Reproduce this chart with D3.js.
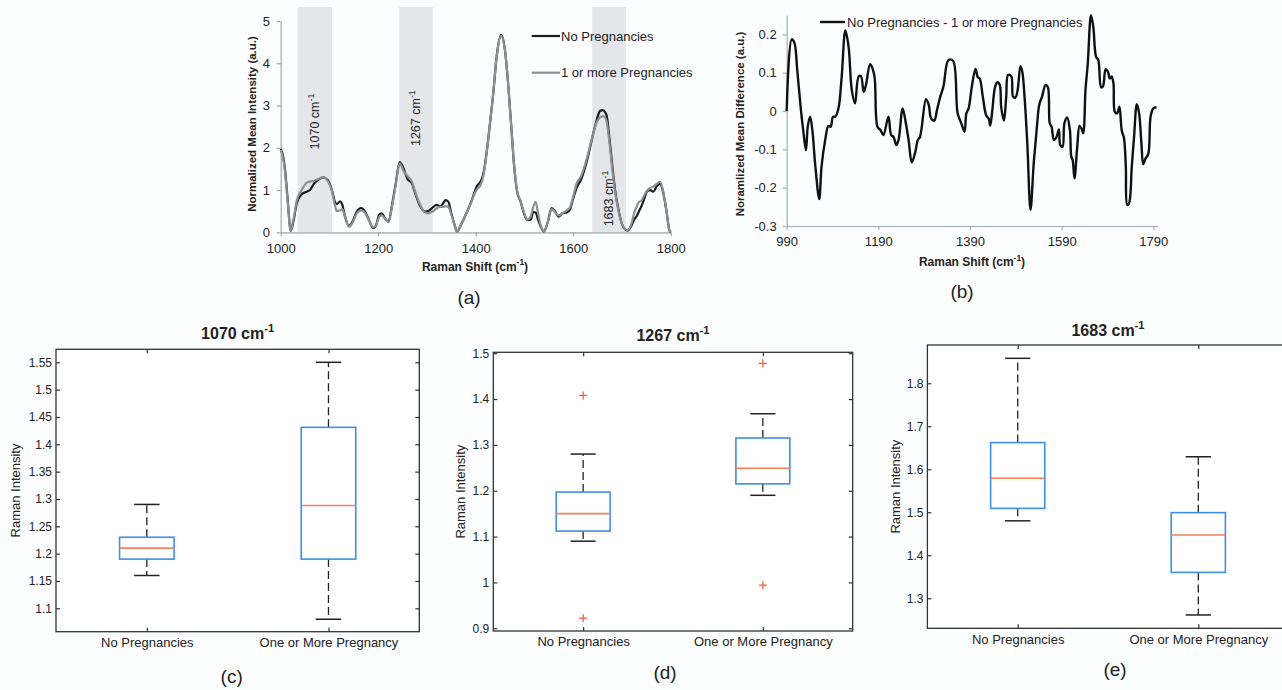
<!DOCTYPE html>
<html><head><meta charset="utf-8">
<script src="https://cdn.jsdelivr.net/npm/d3@7"></script>
<style>
body{margin:0;background:#fcfdfe;}
svg text{font-family:Arial,"Liberation Sans",Helvetica,sans-serif;fill:#222;}
</style>
</head><body>
<svg id="c" width="1282" height="690"></svg>
<script>
// ---------- Panel (a): mean spectra ----------
const specX = [
1000,1005,1009,1013,1016,1020,1026,1033,1043,1053,
1060,1069,1077,1087,1096,1105,1111,1115,1122,1126,
1132,1140,1147,1156,1165,1173,1181,1190,1195,1202,
1207,1214,1221,1229,1236,1244,1252,1260,1269,1276,
1286,1296,1304,1313,1320,1327,1334,1338,1344,1350,
1356,1362,1371,1381,1392,1399,1403,1410,1416,1423,
1429,1436,1443,1452,1460,1467,1473,1479,1485,1492,
1499,1506,1513,1518,1523,1528,1533,1540,1547,1556,
1563,1570,1578,1587,1593,1600,1607,1617,1628,1638,
1648,1655,1660,1665,1669,1674,1679,1686,1693,1701,
1711,1720,1725,1730,1735,1740,1746,1751,1758,1764,
1772,1778,1785,1792,1797,1800];
const specNoPreg = [
1.97,1.80,1.47,0.95,0.53,0.03,0.25,0.69,0.90,0.96,
1.00,1.16,1.24,1.30,1.24,1.00,0.73,0.67,0.73,0.66,
0.37,0.15,0.25,0.49,0.57,0.49,0.29,0.10,0.15,0.41,
0.45,0.33,0.25,0.69,1.16,1.66,1.51,1.26,1.16,0.92,
0.62,0.49,0.51,0.60,0.65,0.61,0.70,0.76,0.72,0.45,
0.20,0.02,0.21,0.45,0.76,1.00,1.10,1.20,1.40,1.95,
2.55,3.29,4.16,4.67,4.31,3.45,2.50,1.55,0.96,0.73,
0.45,0.29,0.30,0.48,0.47,0.30,0.15,0.02,0.21,0.57,
0.49,0.37,0.45,0.47,0.53,0.80,1.05,1.27,1.68,2.18,
2.65,2.87,2.89,2.85,2.74,2.26,1.71,1.00,0.53,0.17,
0.04,0.17,0.30,0.38,0.50,0.62,0.80,0.96,1.00,0.96,
1.10,1.15,0.92,0.45,0.06,0.00];
const specPreg = [
1.95,1.75,1.40,0.90,0.50,0.03,0.30,0.75,1.00,1.17,
1.20,1.22,1.26,1.30,1.22,0.98,0.65,0.50,0.52,0.55,
0.38,0.13,0.22,0.45,0.52,0.46,0.28,0.12,0.16,0.36,
0.40,0.32,0.24,0.65,1.12,1.63,1.45,1.33,1.20,0.95,
0.65,0.47,0.45,0.50,0.57,0.60,0.60,0.62,0.60,0.42,
0.20,0.02,0.22,0.45,0.74,0.95,1.02,1.12,1.35,1.93,
2.55,3.29,4.16,4.65,4.31,3.45,2.50,1.55,0.98,0.74,
0.47,0.30,0.38,0.60,0.72,0.45,0.18,0.03,0.20,0.55,
0.47,0.40,0.45,0.52,0.58,0.85,1.15,1.35,1.75,2.20,
2.60,2.72,2.75,2.72,2.60,2.15,1.62,0.95,0.50,0.17,
0.05,0.22,0.45,0.60,0.72,0.75,0.88,0.98,1.05,1.08,
1.15,1.20,0.95,0.45,0.06,0.00];
const bandRanges = [[1035,1105],[1243,1312],[1639,1708]];
const bandLabels = ["1070","1267","1683"];
const specXTicks = [1000,1200,1400,1600,1800];
const specYTicks = [0,1,2,3,4,5];
const specLegend = ["No Pregnancies","1 or more Pregnancies"];

// ---------- Panel (b): difference spectrum ----------
const diffX = [
990,1001,1007,1013,1021,1026,1032,1036,1041,1046,
1052,1061,1066,1074,1081,1086,1091,1096,1103,1110,
1118,1125,1132,1139,1147,1152,1158,1163,1172,1181,
1188,1195,1201,1212,1218,1223,1229,1234,1243,1250,
1256,1263,1270,1276,1281,1294,1300,1305,1312,1318,
1325,1332,1343,1353,1363,1371,1378,1382,1387,1394,
1402,1407,1411,1418,1425,1431,1434,1438,1445,1450,
1455,1458,1464,1469,1473,1480,1484,1489,1494,1500,
1504,1509,1515,1522,1529,1536,1541,1547,1555,1560,
1564,1568,1573,1579,1584,1587,1592,1596,1602,1608,
1611,1614,1618,1624,1629,1633,1637,1642,1647,1654,
1659,1665,1670,1676,1680,1686,1691,1695,1699,1703,
1706,1711,1716,1721,1726,1730,1733,1737,1743,1748,
1754,1759,1764,1768,1773,1779,1784,1790,1797];
const diffY = [
0,0.187,0.177,0.107,0.003,-0.05,-0.102,-0.04,-0.015,-0.05,
-0.137,-0.23,-0.145,-0.076,-0.039,-0.041,-0.015,-0.015,0.007,0.09,
0.21,0.168,0.055,0.02,0.09,0.091,0.05,0.068,0.122,0.094,
-0.041,-0.05,-0.063,-0.015,-0.063,-0.067,-0.089,-0.076,0.007,-0.032,
-0.076,-0.134,-0.11,-0.076,-0.067,0.031,0.016,-0.019,-0.025,0.003,
0.037,0.064,0.133,0.131,-0.006,-0.032,-0.054,-0.006,0.007,0.064,
0.11,0.088,0.085,0.037,-0.01,-0.021,-0.038,-0.006,0.064,0.075,
0.068,0.011,-0.025,0.037,0.094,0.091,0.037,0.035,0.055,0.117,
0.103,0.037,-0.084,-0.258,-0.137,-0.041,0.016,0.037,0.068,0.062,
-0.032,-0.041,-0.076,-0.067,-0.048,-0.089,-0.093,-0.032,-0.017,-0.05,
-0.119,-0.128,-0.176,-0.093,-0.039,-0.045,-0.058,0.055,0.124,0.25,
0.22,0.142,0.133,0.062,0.064,0.109,0.103,0.085,0.09,0.072,
-0.002,-0.006,0.011,-0.05,-0.071,-0.145,-0.245,-0.241,-0.145,-0.067,
0.018,-0.006,-0.084,-0.139,-0.124,-0.112,-0.015,0.007,0.01];
const diffXTicks = [990,1190,1390,1590,1790];
const diffYTicks = [-0.3,-0.2,-0.1,0,0.1,0.2];
const diffLegend = "No Pregnancies - 1 or more Pregnancies";

// ---------- Panels (c)-(e): box plots ----------
const boxCategories = ["No Pregnancies","One or More Pregnancy"];
// [lower whisker, Q1, median, Q3, upper whisker]
const box1070 = [[1.16,1.19,1.21,1.23,1.29],[1.08,1.19,1.288,1.431,1.55]];
const box1267 = [[1.09,1.112,1.15,1.197,1.28],[1.19,1.215,1.249,1.315,1.368]];
const box1683 = [[1.48,1.509,1.579,1.662,1.858],[1.261,1.36,1.447,1.499,1.629]];
const out1070 = [[],[]];
const out1267 = [[1.408,0.922],[1.478,0.994]];
const out1683 = [[],[]];
const ticks1070 = [1.1,1.15,1.2,1.25,1.3,1.35,1.4,1.45,1.5,1.55];
const ticks1267 = [0.9,1,1.1,1.2,1.3,1.4,1.5];
const ticks1683 = [1.3,1.4,1.5,1.6,1.7,1.8];

// =============== drawing ===============
const svg = d3.select("#c");

function addSup(t, main, sup, tail, fs) {
  t.append("tspan").text(main);
  t.append("tspan").attr("dy", -fs*0.45).attr("font-size", fs*0.7).text(sup);
  if (tail) t.append("tspan").attr("dy", fs*0.45).text(tail);
}
function styleAxis(g, col, fs) {
  g.select(".domain").attr("stroke", col).attr("stroke-width", 1.2);
  g.selectAll(".tick line").attr("stroke", col).attr("stroke-width", 1.2);
  g.selectAll(".tick text").attr("font-size", fs).attr("fill", "#222")
   .style("font-family", "Arial, 'Liberation Sans', sans-serif");
}
const plainFmt = d => String(d);

// ---- (a)
(function(){
  const x = d3.scaleLinear().domain([1000,1800]).range([280.7,670.7]);
  const y = d3.scaleLinear().domain([0,5]).range([232.3,21]);
  const g = svg.append("g");
  bandRanges.forEach(b => {
    g.append("rect").attr("x", x(b[0])).attr("width", x(b[1]) - x(b[0]))
      .attr("y", y(5.33)).attr("height", y(0) - y(5.33)).attr("fill", "#e4e6e9");
  });
  const labelY = [2.62, 2.70, 0.80];
  bandRanges.forEach((b, i) => {
    const t = g.append("text")
      .attr("transform", `translate(${x((b[0]+b[1])/2)},${y(labelY[i])}) rotate(-90)`)
      .attr("text-anchor", "middle").attr("dy", "0.35em").attr("font-size", 12.5);
    addSup(t, bandLabels[i] + " cm", "-1", null, 12.5);
  });
  const gx = g.append("g").attr("transform", `translate(0,${y(0)})`)
    .call(d3.axisBottom(x).tickValues(specXTicks).tickFormat(plainFmt).tickSize(4).tickSizeOuter(0).tickPadding(7.5));
  styleAxis(gx, "#a2a6aa", 13);
  const gy = g.append("g").attr("transform", `translate(${x(1000)},0)`)
    .call(d3.axisLeft(y).tickValues(specYTicks).tickFormat(plainFmt).tickSize(4).tickSizeOuter(0).tickPadding(6.7));
  styleAxis(gy, "#a2a6aa", 13);

  const line = d3.line().x((d,i) => x(specX[i])).y(d => y(d)).curve(d3.curveMonotoneX);
  g.append("path").datum(specNoPreg).attr("d", line).attr("fill","none")
    .attr("stroke","#1b1b1b").attr("stroke-width",2.2).attr("stroke-linejoin","round");
  g.append("path").datum(specPreg).attr("d", line).attr("fill","none")
    .attr("stroke","#8d9092").attr("stroke-width",2.2).attr("stroke-linejoin","round");

  // legend
  const cols = ["#1b1b1b","#8d9092"];
  const ly = [36, 72.7];
  specLegend.forEach((s,i) => {
    g.append("line").attr("x1",531.7).attr("x2",560).attr("y1",ly[i]).attr("y2",ly[i])
      .attr("stroke",cols[i]).attr("stroke-width",2.2);
    g.append("text").attr("x",561).attr("y",ly[i]).attr("dy","0.35em")
      .attr("font-size",13).text(s);
  });
  // titles
  const tx = g.append("text").attr("x",475).attr("y",270.5).attr("text-anchor","middle")
    .attr("font-size",12).attr("font-weight","bold");
  addSup(tx, "Raman Shift (cm", "-1", ")", 12);
  g.append("text").attr("transform","translate(252,124) rotate(-90)").attr("text-anchor","middle")
    .attr("dy","0.35em").attr("font-size",11.5).attr("font-weight","bold")
    .text("Normalized Mean Intensity (a.u.)");
  g.append("text").attr("x",469).attr("y",304).attr("text-anchor","middle")
    .attr("font-size",19).text("(a)");
})();

// ---- (b)
(function(){
  const x = d3.scaleLinear().domain([990,1800]).range([786.7,1157.9]);
  const y = d3.scaleLinear().domain([-0.3,0.25]).range([226,15.2]);
  const g = svg.append("g");
  const gx = g.append("g").attr("transform", `translate(0,${y(-0.3)})`)
    .call(d3.axisBottom(x).tickValues(diffXTicks).tickFormat(plainFmt).tickSize(4).tickSizeOuter(0).tickPadding(6.8));
  styleAxis(gx, "#9eb0c0", 13);
  const gy = g.append("g").attr("transform", `translate(${x(990)},0)`)
    .call(d3.axisLeft(y).tickValues(diffYTicks).tickSize(4).tickSizeOuter(0).tickPadding(6)
      .tickFormat(d => d === 0 ? "0" : d.toFixed(1)));
  styleAxis(gy, "#9eb0c0", 13);
  const line = d3.line().x((d,i) => x(diffX[i])).y(d => y(d)).curve(d3.curveCatmullRom.alpha(0.5));
  g.append("path").datum(diffY).attr("d", line).attr("fill","none")
    .attr("stroke","#111").attr("stroke-width",2.4).attr("stroke-linejoin","round");
  g.append("line").attr("x1",820).attr("x2",845).attr("y1",22).attr("y2",22)
    .attr("stroke","#111").attr("stroke-width",2.4);
  g.append("text").attr("x",847).attr("y",22).attr("dy","0.35em").attr("font-size",13).text(diffLegend);
  const tx = g.append("text").attr("x",972).attr("y",266).attr("text-anchor","middle")
    .attr("font-size",12).attr("font-weight","bold");
  addSup(tx, "Raman Shift (cm", "-1", ")", 12);
  g.append("text").attr("transform","translate(740,124) rotate(-90)").attr("text-anchor","middle")
    .attr("dy","0.35em").attr("font-size",11.5).attr("font-weight","bold")
    .text("Noramlized Mean Difference (a.u.)");
  g.append("text").attr("x",962).attr("y",297.7).attr("text-anchor","middle")
    .attr("font-size",19).text("(b)");
})();

// ---- box plots
function boxPanel(p) {
  const g = svg.append("g");
  const x = d3.scaleLinear().domain([0.5,2.5]).range([p.left,p.right]);
  const y = d3.scaleLinear().domain(p.domain).range([p.bottom,p.top]);
  g.append("rect").attr("x",p.left).attr("y",p.top).attr("width",p.right-p.left)
    .attr("height",p.bottom-p.top).attr("fill","#ffffff");
  const fmt = d => String(+d.toFixed(2));
  const ax = [
    g.append("g").attr("transform",`translate(${p.left},0)`)
      .call(d3.axisLeft(y).tickValues(p.ticks).tickFormat(fmt).tickSize(-4).tickPadding(4).tickSizeOuter(0)),
    g.append("g").attr("transform",`translate(${p.right},0)`)
      .call(d3.axisRight(y).tickValues(p.ticks).tickFormat("").tickSize(-4).tickSizeOuter(0)),
    g.append("g").attr("transform",`translate(0,${p.bottom})`)
      .call(d3.axisBottom(x).tickValues([1,2]).tickFormat(i => boxCategories[i-1]).tickSize(-4).tickPadding(6).tickSizeOuter(0)),
    g.append("g").attr("transform",`translate(0,${p.top})`)
      .call(d3.axisTop(x).tickValues([1,2]).tickFormat("").tickSize(-4).tickSizeOuter(0))
  ];
  ax.forEach((a,i) => {
    a.select(".domain").remove();
    a.selectAll(".tick line").attr("stroke","#333").attr("stroke-width",1.2);
    a.selectAll(".tick text").attr("font-size", i === 2 ? 13 : 12).attr("fill","#222")
      .style("font-family","Arial, 'Liberation Sans', sans-serif");
  });
  g.append("rect").attr("x",p.left).attr("y",p.top).attr("width",p.right-p.left)
    .attr("height",p.bottom-p.top).attr("fill","none").attr("stroke","#333").attr("stroke-width",1.3);

  const bw = x(1.15) - x(0.85), cw = x(1.07) - x(0.93);
  p.stats.forEach((s,i) => {
    const cx = x(i+1);
    const [lo,q1,med,q3,hi] = s;
    g.append("line").attr("x1",cx).attr("x2",cx).attr("y1",y(q3)).attr("y2",y(hi))
      .attr("stroke","#222").attr("stroke-width",1.3).attr("stroke-dasharray","8,4");
    g.append("line").attr("x1",cx).attr("x2",cx).attr("y1",y(q1)).attr("y2",y(lo))
      .attr("stroke","#222").attr("stroke-width",1.3).attr("stroke-dasharray","8,4");
    [lo,hi].forEach(v => g.append("line").attr("x1",cx-cw/2).attr("x2",cx+cw/2)
      .attr("y1",y(v)).attr("y2",y(v)).attr("stroke","#222").attr("stroke-width",1.5));
    g.append("rect").attr("x",cx-bw/2).attr("width",bw).attr("y",y(q3)).attr("height",y(q1)-y(q3))
      .attr("fill","none").attr("stroke","#3f8fe3").attr("stroke-width",1.6);
    g.append("line").attr("x1",cx-bw/2).attr("x2",cx+bw/2).attr("y1",y(med)).attr("y2",y(med))
      .attr("stroke","#f47f5a").attr("stroke-width",1.6);
    p.outliers[i].forEach(v => {
      const yy = y(v);
      g.append("path").attr("d",`M${cx-4},${yy}H${cx+4}M${cx},${yy-4}V${yy+4}`)
        .attr("stroke","#f0603e").attr("stroke-width",1.3);
    });
  });
  const t = g.append("text").attr("x",(p.left+p.right)/2).attr("y",p.titleY)
    .attr("text-anchor","middle").attr("font-size",16).attr("font-weight","bold");
  addSup(t, p.title + " cm", "-1", null, 16);
  g.append("text").attr("transform",`translate(${p.ylabX},${(p.top+p.bottom)/2}) rotate(-90)`)
    .attr("text-anchor","middle").attr("dy","0.35em").attr("font-size",13).text("Raman Intensity");
  g.append("text").attr("x",p.tagX).attr("y",p.tagY).attr("text-anchor","middle")
    .attr("font-size",19).text(p.tag);
}

boxPanel({left:56, right:419.3, top:349.3, bottom:631.7, domain:[1.0572,1.5738],
  ticks:ticks1070, stats:box1070, outliers:out1070, title:"1070", titleY:339,
  ylabX:15, tag:"(c)", tagX:231.7, tagY:682.6});
boxPanel({left:493.3, right:852.7, top:352.3, bottom:631, domain:[0.894,1.502],
  ticks:ticks1267, stats:box1267, outliers:out1267, title:"1267", titleY:340.7,
  ylabX:460, tag:"(d)", tagX:665, tagY:679.3});
boxPanel({left:927.4, right:1288.6, top:345, bottom:628.3, domain:[1.23,1.889],
  ticks:ticks1683, stats:box1683, outliers:out1683, title:"1683", titleY:336,
  ylabX:895, tag:"(e)", tagX:1115, tagY:676});
</script>
</body></html>
